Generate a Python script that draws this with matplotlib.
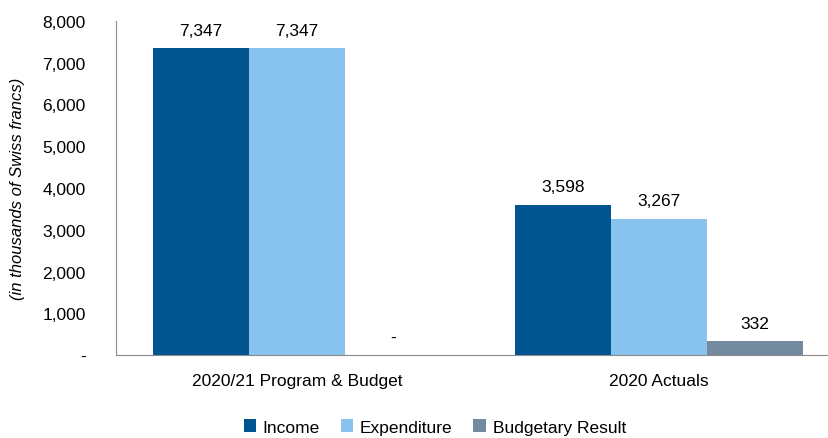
import numpy as np
import matplotlib.pyplot as plt
from matplotlib.ticker import FuncFormatter

plt.rcParams['font.family'] = ['Liberation Sans', 'DejaVu Sans']

categories = ['2020/21 Program & Budget', '2020 Actuals']
series = ['Income', 'Expenditure', 'Budgetary Result']
income = [7347, 3598]
expenditure = [7347, 3267]
result = [0, 332]
colors = ['#00548F', '#88C2EE', '#748A9E']

fig = plt.figure(figsize=(8.29, 4.39), dpi=100)
ax = fig.add_axes([0.140, 0.189, 0.860, 0.761])

x = np.arange(len(categories))
w = 0.265
for i, (vals, name) in enumerate(zip([income, expenditure, result], series)):
    pos = x + (i - 1) * w
    ax.bar(pos, vals, width=w, color=colors[i], label=name)
    for px, v in zip(pos, vals):
        txt = f"{v:,}" if v else "-"  # ноль показываем прочерком
        yy = v + 250 if v else 250
        ax.text(px, yy, txt, ha='center', va='bottom', fontsize=12.5)

ax.set_xlim(-0.5, 1.47)
ax.set_ylim(0, 8000)
ax.set_yticks(range(0, 8001, 1000))
ax.yaxis.set_major_formatter(FuncFormatter(lambda v, p: f"{int(v):,}" if v else "-"))
ax.set_xticks(x)
ax.set_xticklabels(categories)
ax.tick_params(length=0, labelsize=12.5)
ax.tick_params(axis='y', pad=22)
ax.tick_params(axis='x', pad=13)
ax.set_ylabel('(in thousands of Swiss francs)', fontsize=12, style='italic', labelpad=12)

for s in ['top', 'right']:
    ax.spines[s].set_visible(False)
for s in ['left', 'bottom']:
    ax.spines[s].set_color('#8C8C8C')

ax.legend(loc='lower center', bbox_to_anchor=(0.447, -0.285), ncol=3, frameon=False,
          fontsize=12.5, handlelength=0.7, handleheight=0.7, columnspacing=1.2, handletextpad=0.4)

fig.savefig('out.png', dpi=100)
